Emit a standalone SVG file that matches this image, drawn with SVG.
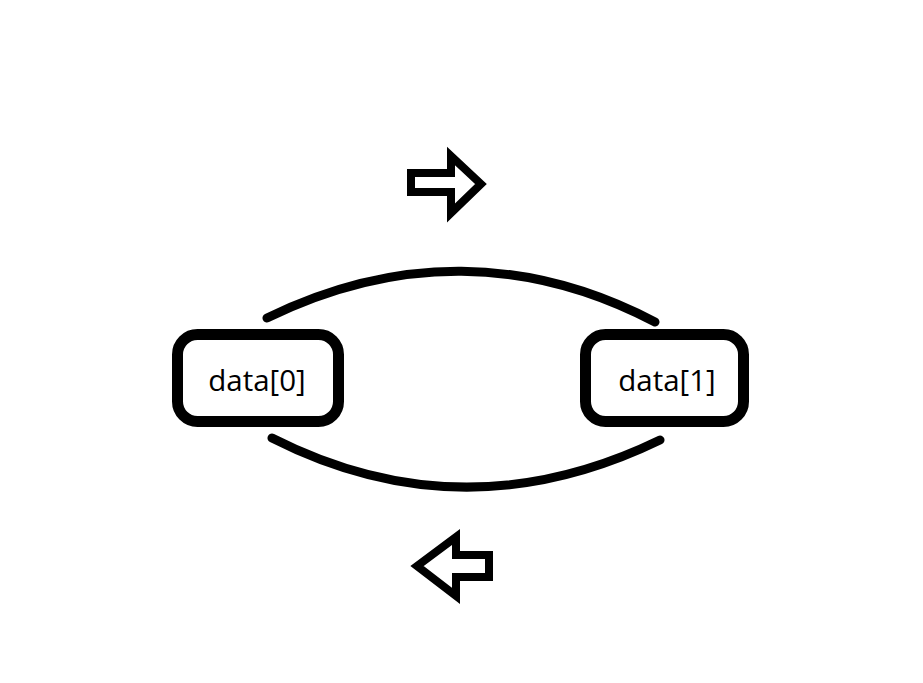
<svg xmlns="http://www.w3.org/2000/svg" width="923" height="683" viewBox="0 0 923 683">
<style>
.box{fill:#fff;stroke:#000;stroke-width:11}
.lbl{font-family:"Open Sans","Noto Sans",sans-serif;font-size:29.5px;fill:#000;text-anchor:middle}
.conn{fill:none;stroke:#000;stroke-width:9;stroke-linecap:round}
.arr{fill:#fff;stroke:#000;stroke-width:8;stroke-linejoin:miter;stroke-miterlimit:10}
</style>
<rect width="923" height="683" fill="#fff"/>
<g id="connectors">
<path class="conn" d="M267,318 C396,255 527,255 655,322"/>
<path class="conn" d="M272,438 C400,503 530,503 660,440"/>
</g>
<g id="arrow-right">
<polygon class="arr" points="411,173 451,173 451,156 481,184 451,213 451,192 411,192"/>
</g>
<g id="arrow-left">
<polygon class="arr" points="489,555 456,555 456,537 417,566 456,596 456,577 489,577"/>
</g>
<g id="node0">
<rect class="box" x="177.5" y="334.5" width="161" height="87" rx="20"/>
<text class="lbl" x="257" y="391">data[0]</text>
</g>
<g id="node1">
<rect class="box" x="585.5" y="334.5" width="158" height="87" rx="20"/>
<text class="lbl" x="667" y="391">data[1]</text>
</g>
</svg>
